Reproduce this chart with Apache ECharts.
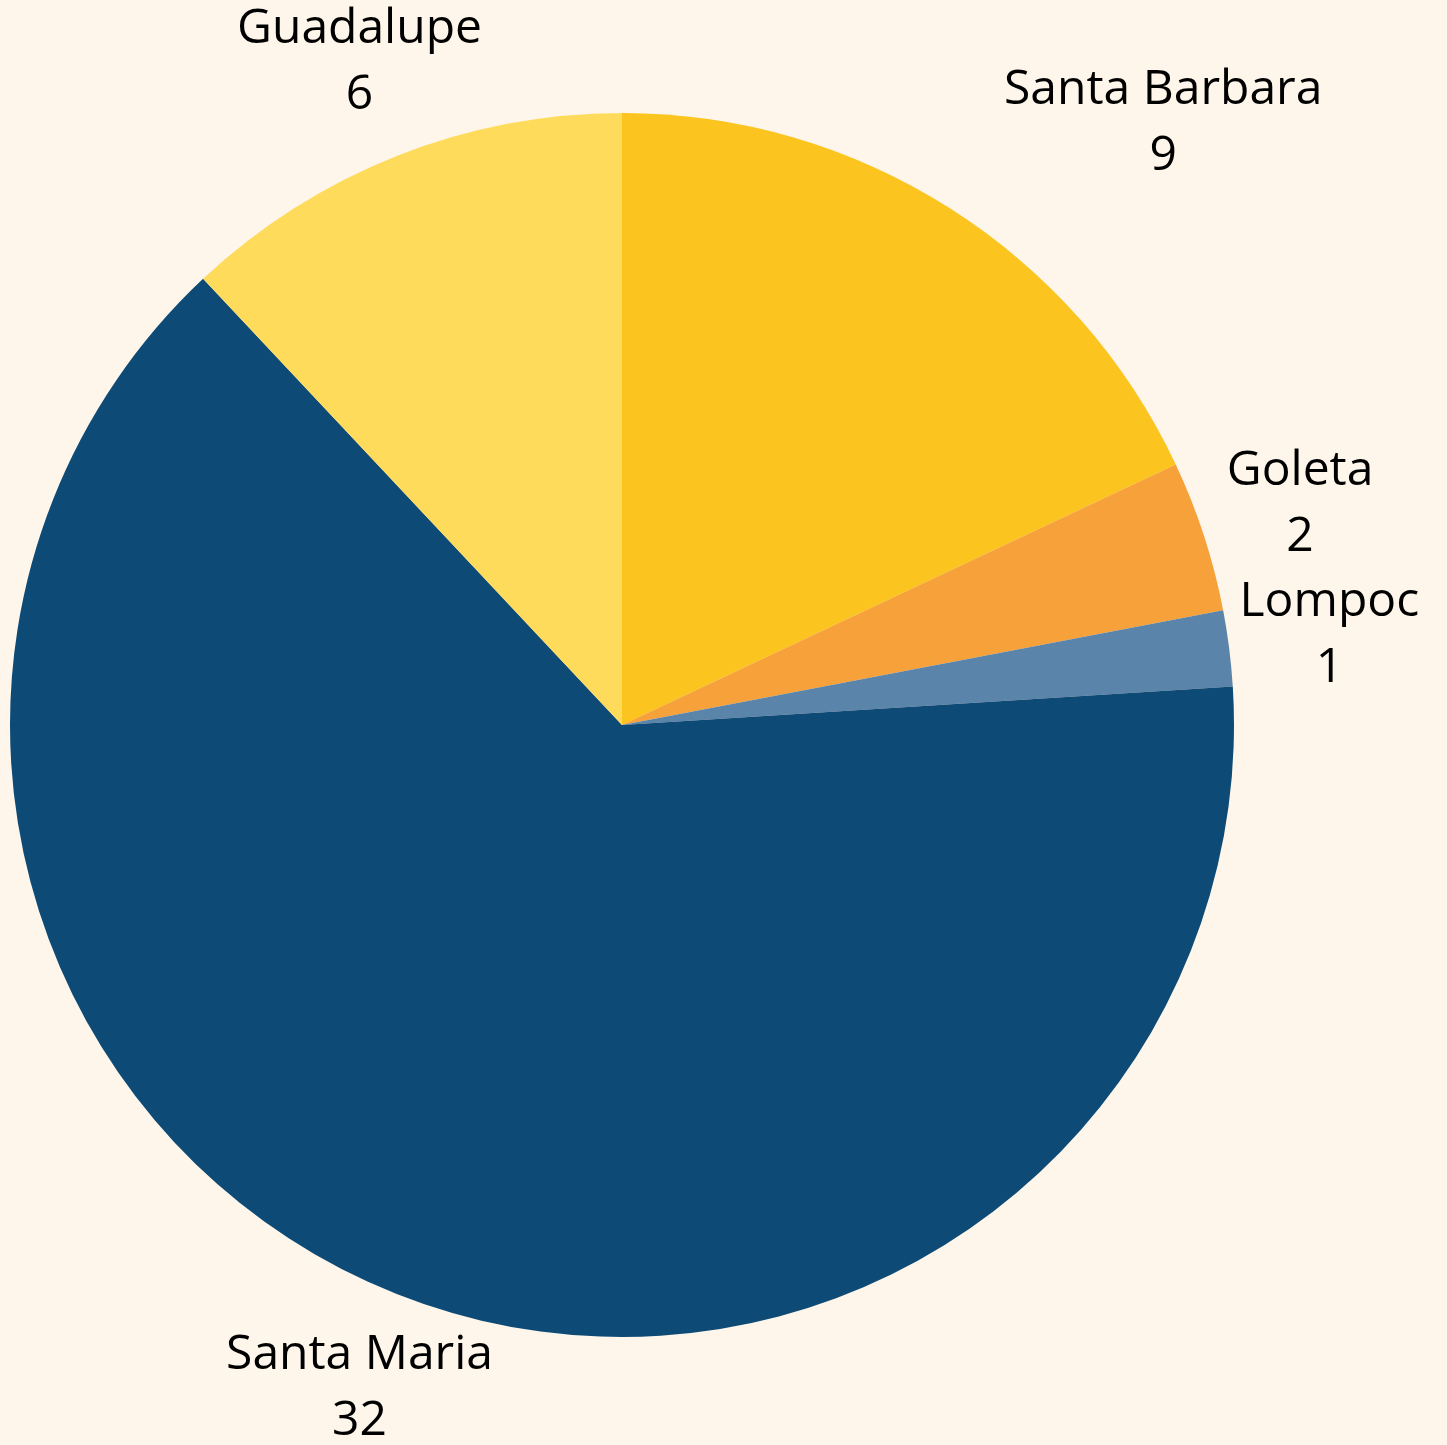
<!DOCTYPE html>
<html>
<head>
<meta charset="utf-8">
<script src="https://cdn.jsdelivr.net/npm/echarts@6/dist/echarts.min.js"></script>
<style>
  html, body { margin: 0; padding: 0; background: #fef6ea; }
  #chart-container { width: 1447px; height: 1445px; }
</style>
</head>
<body>
<div id="chart-container"></div>
<script>
var categories = ['Santa Barbara', 'Goleta', 'Lompoc', 'Santa Maria', 'Guadalupe'];
var counts = [9, 2, 1, 32, 6];
var colors = ['#fbc41f', '#f6a13a', '#5b84ab', '#0d4a76', '#ffdb5c'];

var dom = document.getElementById('chart-container');
var myChart = echarts.init(dom, null, { renderer: 'canvas' });

var cx = 622, cy = 725, R = 612;
var total = counts.reduce(function (a, b) { return a + b; }, 0);

// mid angle of each slice, clockwise from 12 o'clock
var midAngles = [];
var acc = 0;
counts.forEach(function (v) {
  midAngles.push((acc + v / 2) / total * Math.PI * 2);
  acc += v;
});

var option = {
  backgroundColor: '#fef6ea',
  color: colors,
  series: [
    {
      type: 'pie',
      center: [cx, cy],
      radius: R,
      startAngle: 90,
      clockwise: true,
      avoidLabelOverlap: false,
      animation: false,
      data: categories.map(function (name, i) {
        return { name: name, value: counts[i] };
      }),
      itemStyle: { borderWidth: 0 },
      label: {
        show: true,
        position: 'outside',
        formatter: '{b}\n{c}',
        fontFamily: 'Open Sans',
        fontSize: 48,
        lineHeight: 66,
        color: '#000000',
        align: 'center'
      },
      labelLine: { show: false },
      labelLayout: function (params) {
        var a = midAngles[params.dataIndex];
        var d = R * 1.165;
        var x = cx + d * Math.sin(a);
        var y = cy - d * Math.cos(a);
        // the first slice's label sits to the right of its anchor
        if (params.dataIndex === 0) {
          x += params.labelRect.width / 2;
        }
        return { x: x, y: y, align: 'center', verticalAlign: 'middle' };
      }
    }
  ]
};

myChart.setOption(option);
window.addEventListener('resize', myChart.resize);
</script>
</body>
</html>
